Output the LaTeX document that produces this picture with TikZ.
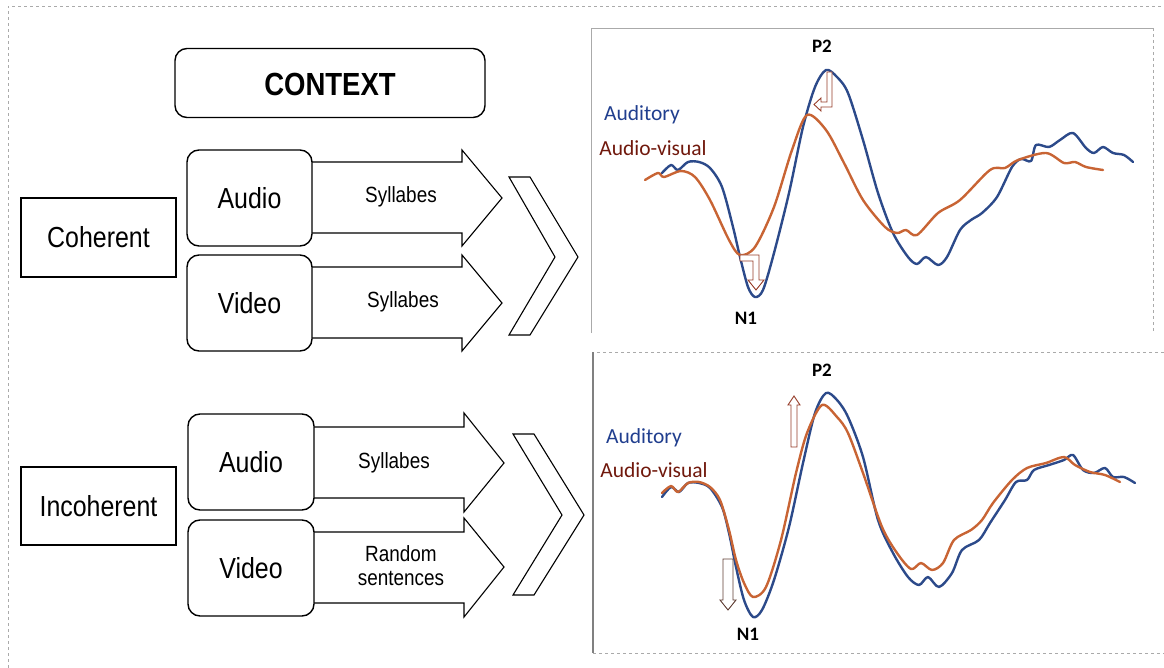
\documentclass[tikz,border=0pt]{standalone}
\usepackage{fontspec}
\newfontfamily\arialn[FakeStretch=0.86]{Liberation Sans}
\newfontfamily\calib{Carlito}
\definecolor{audblue}{RGB}{44,74,138}
\definecolor{avorange}{RGB}{200,100,52}
\definecolor{audtext}{RGB}{32,62,142}
\definecolor{avtext}{RGB}{112,24,12}
\definecolor{arrred}{RGB}{150,60,40}
\definecolor{arrdark}{RGB}{95,62,52}
\definecolor{framegray}{RGB}{170,170,170}
\begin{document}
\begin{tikzpicture}[x=1pt,y=-1pt,
  box/.style={draw=black,line width=1.4pt,fill=white},
  rbox/.style={draw=black,line width=1.4pt,fill=white,rounded corners=12pt},
  blockarrow/.style={draw=black,line width=1.1pt,fill=white,line join=miter},
  lbl/.style={font=\arialn\fontsize{29}{31}\selectfont,inner sep=0pt},
  small/.style={font=\arialn\fontsize{22}{24}\selectfont,inner sep=0pt,align=center},
  curve/.style={line width=2.4pt,line join=round,line cap=round},
  hollow/.style={line width=0.9pt,fill=white,line join=miter},
  frame/.style={draw=framegray,line width=0.9pt}
]
\useasboundingbox (0,0) rectangle (1164,668);
% outer frame
\draw[frame,dashed] (8,668) -- (8,6) -- (1164,6);
% panels
\draw[frame] (591,333) -- (591,28) -- (1153,28);
\draw[frame,dashed] (1153,28) -- (1153,333);
\draw[frame,dashed] (1164,352) -- (593,352);
\draw[draw=gray,line width=1.1pt] (593,352) -- (593,653);
\draw[frame,dashed] (593,653) -- (1164,653);

% CONTEXT
\node[rbox,minimum width=310pt,minimum height=69pt] (ctx) at (330,83) {};
\node[font=\arialn\bfseries\fontsize{32}{34}\selectfont,inner sep=0pt] (ctxt) at (330,84) {CONTEXT};

% Coherent / Incoherent
\node[box,minimum width=155pt,minimum height=79pt,lbl] (coh) at (98.5,237.5) {Coherent};
\node[box,minimum width=155pt,minimum height=78pt,lbl] (inc) at (98.5,506) {Incoherent};

% block arrows (top)
\draw[blockarrow] (300,162) -- (462,162) -- (462,150) -- (502,198) -- (462,246) -- (462,233) -- (300,233) -- cycle;
\draw[blockarrow] (300,267) -- (462,267) -- (462,255) -- (502,303) -- (462,351) -- (462,338) -- (300,338) -- cycle;
% block arrows (bottom)
\draw[blockarrow] (300,427) -- (464,427) -- (464,413) -- (504,463) -- (464,512) -- (464,498) -- (300,498) -- cycle;
\draw[blockarrow] (300,532) -- (464,532) -- (464,518) -- (504,567) -- (464,617) -- (464,603) -- (300,603) -- cycle;

% Audio / Video boxes
\node[rbox,minimum width=125pt,minimum height=96pt,lbl] (a1) at (249.5,198) {Audio};
\node[rbox,minimum width=125pt,minimum height=96pt,lbl] (v1) at (249.5,303) {Video};
\node[rbox,minimum width=126pt,minimum height=96pt,lbl] (a2) at (251,462) {Audio};
\node[rbox,minimum width=126pt,minimum height=96pt,lbl] (v2) at (251,568) {Video};

% arrow labels
\node[small] (s1) at (401,197) {Syllabes};
\node[small] (s2) at (403,302) {Syllabes};
\node[small] (s3) at (394,463) {Syllabes};
\node[small] (s4) at (401,566) {Random\\sentences};

% chevrons
\draw[blockarrow,line width=1.1pt] (509,177) -- (530,177) -- (578,257) -- (530,335) -- (509,335) -- (555,257) -- cycle;
\draw[blockarrow,line width=1.1pt] (513,434) -- (534,434) -- (584,515) -- (534,595) -- (513,595) -- (562,515) -- cycle;

% ===== top panel curves =====
\draw[curve,audblue] plot[smooth,tension=0.5] coordinates {
(662,173) (671,165) (678,170) (688,162) (699,162) (710,168) (722,187) (733,227) (740,257) (748,287) (755,297) (763,290) (774,253) (789,193) (803,127) (815,87) (826,70) (837,77) (848,93) (863,140) (878,193) (893,233) (908,257) (917,264) (926,257) (938,265) (947,257) (960,230) (971,220) (982,213) (997,197) (1012,167) (1021,159) (1031,161) (1036,145) (1049,147) (1060,140) (1073,133) (1086,148) (1094,153) (1103,147) (1113,153) (1124,155) (1133,162)};
\draw[curve,avorange] plot[smooth,tension=0.5] coordinates {
(645,180) (658,173) (664,177) (681,171) (695,177) (710,200) (729,240) (740,255) (755,247) (774,207) (792,150) (807,115) (826,130) (844,163) (863,200) (885,227) (897,233) (906,230) (917,235) (938,213) (960,200) (990,170) (1005,168) (1018,160) (1046,153) (1064,163) (1075,162) (1086,167) (1103,170)};

% elbow arrows
\draw[hollow,draw=arrred] (740,255) -- (759,255) -- (759,280) -- (764,280) -- (756,290) -- (748,280) -- (753,280) -- (753,261) -- (740,261) -- cycle;
\draw[hollow,draw=arrred] (827,72) -- (832,72) -- (832,107) -- (821,107) -- (821,111) -- (814,104.5) -- (821,98) -- (821,102) -- (827,102) -- cycle;

% labels top panel
\node[font=\calib\fontsize{21.5}{23}\selectfont,text=audtext,inner sep=0pt] (aud1) at (642,115) {Auditory};
\node[font=\calib\fontsize{21.5}{23}\selectfont,text=avtext,inner sep=0pt] (av1) at (653,148) {Audio-visual};
\node[font=\calib\bfseries\fontsize{19}{21}\selectfont,inner sep=0pt] (p2a) at (822,46) {P2};
\node[font=\calib\bfseries\fontsize{19}{21}\selectfont,inner sep=0pt] (n1a) at (746,318) {N1};

% ===== bottom panel curves =====
\draw[curve,audblue] plot[smooth,tension=0.5] coordinates {
(662,497) (671,487) (679,492) (688,483) (699,483) (710,488) (722,507) (729,533) (736,567) (744,600) (753,617) (762,610) (774,580) (789,527) (803,463) (815,413) (826,393) (837,400) (848,417) (863,457) (878,520) (893,553) (908,577) (919,585) (928,577) (939,587) (952,573) (962,550) (979,540) (990,523) (1005,500) (1016,482) (1027,480) (1034,470) (1049,465) (1064,460) (1073,455) (1083,470) (1094,473) (1105,468) (1113,477) (1124,477) (1135,483)};
\draw[curve,avorange] plot[smooth,tension=0.5] coordinates {
(662,493) (671,486) (678,492) (688,483) (699,482) (710,487) (720,500) (729,530) (736,560) (744,583) (753,597) (766,587) (781,540) (796,473) (807,433) (822,405) (837,417) (848,433) (863,473) (882,527) (897,553) (911,569) (921,563) (932,570) (943,563) (954,540) (971,530) (982,520) (993,503) (1012,480) (1027,468) (1046,463) (1064,457) (1075,465) (1090,472) (1105,475) (1120,482)};

% straight hollow arrows
\draw[hollow,draw=arrred] (791,447) -- (791,405) -- (788,405) -- (794,396) -- (800,405) -- (797,405) -- (797,447) -- cycle;
\draw[hollow,draw=arrdark] (723,559) -- (733,559) -- (733,600) -- (736,600) -- (728,610) -- (720,600) -- (723,600) -- cycle;

% labels bottom panel
\node[font=\calib\fontsize{21.5}{23}\selectfont,text=audtext,inner sep=0pt] (aud2) at (644,438) {Auditory};
\node[font=\calib\fontsize{21.5}{23}\selectfont,text=avtext,inner sep=0pt] (av2) at (654,470) {Audio-visual};
\node[font=\calib\bfseries\fontsize{19}{21}\selectfont,inner sep=0pt] (p2b) at (822,370) {P2};
\node[font=\calib\bfseries\fontsize{19}{21}\selectfont,inner sep=0pt] (n1b) at (748,634) {N1};
\end{tikzpicture}
\end{document}
